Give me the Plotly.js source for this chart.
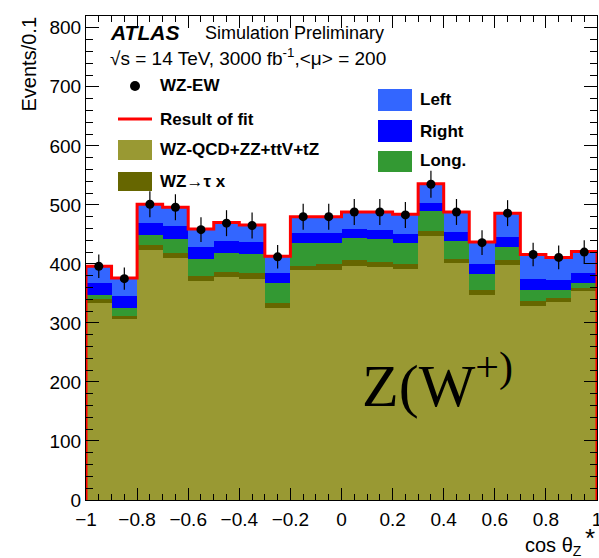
<!DOCTYPE html>
<html>
<head>
<meta charset="utf-8">
<script src="https://cdn.plot.ly/plotly-3.0.1.min.js"></script>
<style>html,body{margin:0;padding:0;background:#fff;}#chart{width:599px;height:558px;}</style>
</head>
<body>
<div id="chart"></div>
<script>
// bin centres of cos theta_Z*
var binCenters = [-0.95,-0.85,-0.75,-0.65,-0.55,-0.45,-0.35,-0.25,-0.15,-0.05,0.05,0.15,0.25,0.35,0.45,0.55,0.65,0.75,0.85,0.95];
var binWidth = 0.1;
// stacked components (events per bin)
var bkgQCD   = [333,306,424,410,371,378,375,326,389,390,397,395,392,447,402,347,398,329,335,354];
var wzTau    = [8,6,8,8,9,9,9,8,8,9,9,8,7,8,6,8,8,8,7,6];
var longPol  = [6,14,17,24,28,32,33,34,39,37,38,39,37,34,31,28,23,19,13,7];
var rightPol = [21,20,21,22,20,19,20,17,16,16,15,16,15,15,15,16,17,18,17,17];
var leftPol  = [28,30,31,32,31,32,29,28,28,28,29,30,33,32,34,38,40,42,39,37];
// WZ-EW pseudo-data
var dataVals = [396,375,501,496,458,469,465,412,480,480,488,488,483,535,488,436,486,416,411,420];
var dataErr  = [20,19,22,22,21,22,22,20,22,22,22,22,22,23,22,21,22,20,20,20];

var total = binCenters.map(function(_, i){ return bkgQCD[i]+wzTau[i]+longPol[i]+rightPol[i]+leftPol[i]; });
var stepX = [binCenters[0]-binWidth/2], stepY = [0];
for (var i=0;i<binCenters.length;i++){ stepX.push(binCenters[i]-binWidth/2); stepY.push(total[i]); }
stepX.push(binCenters[binCenters.length-1]+binWidth/2); stepY.push(total[total.length-1]);
stepX.push(binCenters[binCenters.length-1]+binWidth/2); stepY.push(0);

function barTrace(y, color, name){
  return {type:'bar', x:binCenters, y:y, width:binWidth, name:name, marker:{color:color, line:{width:0}}, hoverinfo:'skip'};
}
var cQCD='#999933', cTau='#666600', cLong='#339933', cRight='#0000ff', cLeft='#3366ff';
var traces = [
  barTrace(bkgQCD, cQCD, 'WZ-QCD+ZZ+ttV+tZ'),
  barTrace(wzTau, cTau, 'WZ→τ x'),
  barTrace(longPol, cLong, 'Long.'),
  barTrace(rightPol, cRight, 'Right'),
  barTrace(leftPol, cLeft, 'Left'),
  {type:'scatter', mode:'lines', x:stepX, y:stepY, line:{color:'#ff0000', width:3, shape:'hv'}, name:'Result of fit', cliponaxis:false},
  {type:'scatter', mode:'markers', x:binCenters, y:dataVals, name:'WZ-EW',
   marker:{color:'black', size:9},
   error_y:{type:'data', array:dataErr, visible:true, color:'black', thickness:1.2, width:0}}
];

var L=86, R=597, T=16, B=500;
function px(x){ return (x-L)/(R-L); }
function py(y){ return (B-y)/(B-T); }
var fontS = 'Liberation Sans, Arial, sans-serif';

var shapes = [];
function box(x0,x1,y0,y1,color){ shapes.push({type:'rect', xref:'paper', yref:'paper', x0:px(x0), x1:px(x1), y0:py(y1), y1:py(y0), fillcolor:color, line:{width:0}}); }
box(118,152,140,160,cQCD);
box(118,152,172,191,cTau);
box(378,412,89,111,cLeft);
box(378,412,120,142,cRight);
box(378,412,151,172,cLong);
shapes.push({type:'line', xref:'paper', yref:'paper', x0:px(118), x1:px(152), y0:py(119), y1:py(119), line:{color:'#ff0000', width:3}});
shapes.push({type:'circle', xref:'paper', yref:'paper', xsizemode:'pixel', ysizemode:'pixel', xanchor:px(135), yanchor:py(86), x0:-5, x1:5, y0:-5, y1:5, fillcolor:'black', line:{width:0}});

function ann(text, x, y, size, opts){
  var a = {text:text, xref:'paper', yref:'paper', x:px(x), y:py(y), xanchor:'left', yanchor:'middle', showarrow:false, font:{family:fontS, size:size, color:'black'}};
  for (var k in (opts||{})) a[k]=opts[k];
  return a;
}
var annotations = [
  ann('<b><i>ATLAS</i></b>', 108, 32, 21),
  ann('Simulation Preliminary', 203, 33, 18),
  ann('√s = 14 TeV, 3000 fb<sup>-1</sup>,&lt;μ&gt; = 200', 108, 57, 19),
  ann('<b>WZ-EW</b>', 158, 86, 17),
  ann('<b>Result of fit</b>', 158, 119, 17),
  ann('<b>WZ-QCD+ZZ+ttV+tZ</b>', 158, 150, 17),
  ann('<b>WZ→τ x</b>', 158, 181, 17),
  ann('<b>Left</b>', 418, 100, 17),
  ann('<b>Right</b>', 418, 131, 17),
  ann('<b>Long.</b>', 418, 161, 17),
  ann('Z(W<sup>+)</sup>', 360, 381, 60, {font:{family:'Liberation Serif, Times New Roman, serif', size:60, color:'black'}}),
  ann('Events/0.1', 28, 15, 20, {textangle:-90, xanchor:'center', yanchor:'top'}),
  ann('cos θ<sub>Z</sub>', 584, 546, 20, {xanchor:'right'}),
  ann('*', 590, 538, 26, {xanchor:'center'})
];

var layout = {
  width:599, height:558,
  margin:{l:L, r:599-R, t:T, b:558-B, pad:0},
  paper_bgcolor:'white', plot_bgcolor:'white',
  barmode:'stack', bargap:0, showlegend:false,
  font:{family:fontS, size:19, color:'black'},
  xaxis:{range:[-1,1], dtick:0.2, tick0:-1, ticks:'inside', ticklen:12, tickcolor:'black', tickwidth:1,
         showline:true, linecolor:'black', linewidth:1, mirror:'allticks', showgrid:false, zeroline:false,
         tickfont:{family:fontS, size:19}, ticklabelstandoff:2, ticklabeloverflow:'allow',
         minor:{dtick:0.05, ticks:'inside', ticklen:6, tickcolor:'black', showgrid:false}},
  yaxis:{range:[0,820], dtick:100, tick0:0, ticks:'inside', ticklen:13, tickcolor:'black', tickwidth:1,
         showline:true, linecolor:'black', linewidth:1, mirror:'allticks', showgrid:false, zeroline:false,
         tickfont:{family:fontS, size:19},
         minor:{dtick:20, ticks:'inside', ticklen:7, tickcolor:'black', showgrid:false}},
  shapes:shapes, annotations:annotations
};
Plotly.newPlot('chart', traces, layout, {displayModeBar:false, staticPlot:true});
</script>
</body>
</html>
